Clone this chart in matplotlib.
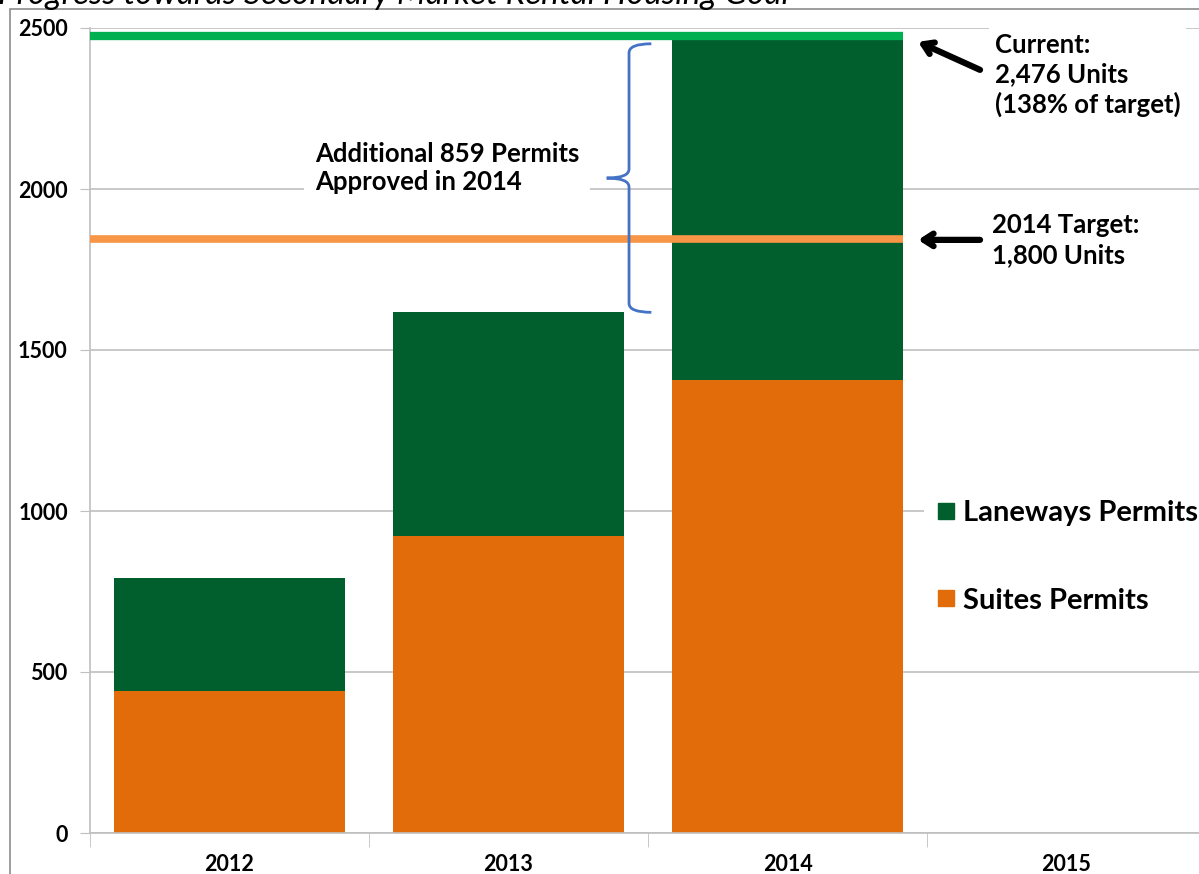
import matplotlib.pyplot as plt
from matplotlib.path import Path
from matplotlib.patches import PathPatch, Rectangle
from matplotlib.lines import Line2D
import numpy as np

years = ["2012", "2013", "2014", "2015"]
suites = [441, 922, 1407]
laneways = [351, 695, 1069]
current_total = 2476
target_line = 1845

plt.rcParams['font.family'] = ['Lato', 'DejaVu Sans']
plt.rcParams['font.weight'] = 'bold'

W, H = 1199, 874
fig = plt.figure(figsize=(W / 100, H / 100), dpi=100)
ax = fig.add_axes([90 / W, (H - 833) / H, (1206 - 90) / W, (833 - 28) / H])

x = np.arange(len(suites))
bw = 0.83
ax.bar(x, suites, bw, color="#E36C0A", label="Suites Permits", zorder=2)
ax.bar(x, laneways, bw, bottom=suites, color="#005F2C", label="Laneways Permits", zorder=2)

# goal lines across to right edge of 2014 bar
xr = x[-1] + bw / 2
ax.plot([-0.5, xr], [current_total, current_total], color="#00B050", lw=6, solid_capstyle='butt', zorder=3, clip_on=False)
ax.plot([-0.5, xr], [target_line, target_line], color="#F79646", lw=5.5, solid_capstyle='butt', zorder=3)

ax.set_xlim(-0.5, 3.5)
ax.set_ylim(0, 2500)
ax.set_yticks([0, 500, 1000, 1500, 2000, 2500])
ax.yaxis.grid(True, color="#BFBFBF", lw=1.2, zorder=0)
ax.set_axisbelow(True)
for s in ["top", "right"]:
    ax.spines[s].set_visible(False)
ax.spines["left"].set_color("#BFBFBF")
ax.spines["bottom"].set_color("#BFBFBF")
ax.spines["left"].set_linewidth(1.2)
ax.spines["bottom"].set_linewidth(1.2)
ax.tick_params(axis='y', length=7, color="#BFBFBF", labelsize=15.5, pad=9)
ax.set_xticks(np.arange(4))
ax.set_xticklabels(years)
ax.set_xticks(np.arange(5) - 0.5, minor=True)
ax.tick_params(axis='x', which='major', length=0, labelsize=15.5, pad=15)
ax.tick_params(axis='x', which='minor', length=10, color="#BFBFBF")
for lab in ax.get_yticklabels() + ax.get_xticklabels():
    lab.set_fontweight('bold')

# brace between 2013 total and 2014 total
ytop = current_total - 25
ybot = suites[1] + laneways[1]
ymid = (ytop + ybot) / 2
x0 = 1.432
dx = 0.08
dy = 28
verts = [(x0 + dx, ytop), (x0, ytop), (x0, ytop - dy),
         (x0, ymid + dy), (x0, ymid), (x0 - dx, ymid),
         (x0, ymid), (x0, ymid - dy),
         (x0, ybot + dy), (x0, ybot), (x0 + dx, ybot)]
codes = [Path.MOVETO, Path.CURVE3, Path.CURVE3,
         Path.LINETO, Path.CURVE3, Path.CURVE3,
         Path.CURVE3, Path.CURVE3,
         Path.LINETO, Path.CURVE3, Path.CURVE3]
ax.add_patch(PathPatch(Path(verts, codes), fill=False, ec="#4472C4", lw=2, zorder=4))

ax.text(0.306, 2065, "Additional 859 Permits\nApproved in 2014", fontsize=18.5, fontweight='bold',
        ha='left', va='center', linespacing=1.2,
        bbox=dict(facecolor='white', edgecolor='none', pad=8), zorder=5)

ax.text(2.744, 2354, "Current:\n2,476 Units\n(138% of target)", fontsize=18.5, fontweight='bold',
        ha='left', va='center', linespacing=1.28,
        bbox=dict(facecolor='white', edgecolor='none', pad=4), zorder=5, clip_on=False)
ax.annotate("", xy=(2.468, 2457), xytext=(2.69, 2370),
            arrowprops=dict(arrowstyle='->,head_length=0.7,head_width=0.45', color='black', lw=4.5,
                            shrinkA=0, shrinkB=0), zorder=6)

ax.text(2.734, 1842, "2014 Target:\n1,800 Units", fontsize=18.5, fontweight='bold',
        ha='left', va='center', linespacing=1.28,
        bbox=dict(facecolor='white', edgecolor='none', pad=4), zorder=5)
ax.annotate("", xy=(2.468, 1842), xytext=(2.69, 1842),
            arrowprops=dict(arrowstyle='->,head_length=0.7,head_width=0.45', color='black', lw=4.5,
                            shrinkA=0, shrinkB=0), zorder=6)

h = [Line2D([], [], marker='s', ls='', color="#005F2C", markersize=12),
     Line2D([], [], marker='s', ls='', color="#E36C0A", markersize=12)]
leg = ax.legend(h, ["Laneways Permits", "Suites Permits"], loc='center left',
                bbox_to_anchor=(924 / W, (H - 557) / H), bbox_transform=fig.transFigure,
                frameon=True, fontsize=21, labelspacing=2.1, handletextpad=0.15,
                handlelength=0.9, borderpad=0.3, borderaxespad=0)
leg.get_frame().set_edgecolor('none')
leg.get_frame().set_facecolor('white')
leg.get_frame().set_alpha(1)
for t in leg.get_texts():
    t.set_fontweight('bold')

# outer chart frame (cut off by image edge)
fig.patches.append(Rectangle((10 / W, -0.05), 1.1, 1 - 9 / H + 0.05, transform=fig.transFigure,
                             fill=False, ec="#8C8C8C", lw=1.2))
fig.text(-2 / W, 1 - 4 / H, "Progress towards Secondary Market Rental Housing Goal",
         fontsize=24, style='italic', fontweight='normal', ha='left', va='baseline')

fig.savefig("out.png", dpi=100)
